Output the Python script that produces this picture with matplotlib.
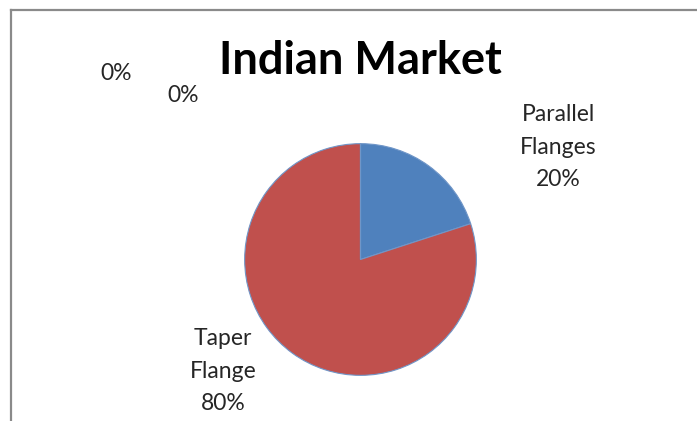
import matplotlib.pyplot as plt
from matplotlib.lines import Line2D

plt.rcParams["font.family"] = ["Lato", "DejaVu Sans"]

categories = ["Parallel\nFlanges", "Taper\nFlange", "", ""]
shares = [20, 80, 0, 0]
colors = ["#4F81BD", "#C0504D", "#9BBB59", "#8064A2"]
# label centres in pixels (x, y from top)
label_pos = [(558, 147), (223, 371), (116, 73), (183, 96)]

W, H = 697, 421
fig = plt.figure(figsize=(W / 100, H / 100), dpi=100)

cx, cy, r = 360.5, 259.5, 117
ax = fig.add_axes([(cx - r) / W, (H - cy - r) / H, 2 * r / W, 2 * r / H])
ax.pie(shares, colors=colors, startangle=90, counterclock=False, radius=1,
       wedgeprops=dict(edgecolor="#7096c8", linewidth=0.8))
ax.set_xlim(-1.01, 1.01)
ax.set_ylim(-1.01, 1.01)
ax.axis("off")

for name, val, (x, y) in zip(categories, shares, label_pos):
    txt = f"{name}\n{val}%" if name else f"{val}%"
    fig.text(x / W, 1 - y / H, txt, ha="center", va="center",
             fontsize=16.5, color="#262626", linespacing=1.68)

fig.text(360 / W, 1 - 61 / H, "Indian Market", ha="center", va="center",
         fontsize=32.5, fontweight="bold", color="black")

# chart border (only top and left visible)
fig.add_artist(Line2D([11 / W, 1], [1 - 10 / H, 1 - 10 / H], color="#8a8a8a", lw=1.6,
                      transform=fig.transFigure))
fig.add_artist(Line2D([11 / W, 11 / W], [0, 1 - 10 / H], color="#8a8a8a", lw=1.6,
                      transform=fig.transFigure))

fig.savefig("out.png", dpi=100, facecolor="white")
